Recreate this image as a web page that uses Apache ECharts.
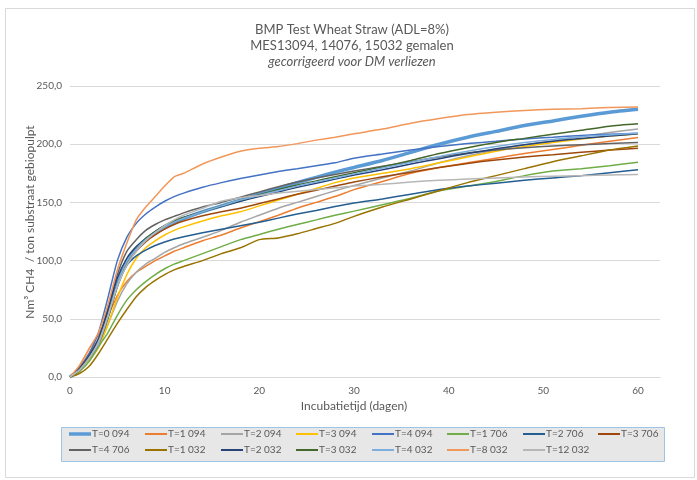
<!DOCTYPE html>
<html>
<head>
<meta charset="utf-8">
<script src="https://cdn.jsdelivr.net/npm/echarts@6/dist/echarts.min.js"></script>
<style>
  html, body { margin: 0; padding: 0; background: #fff; }
  #chart { width: 697px; height: 480px; }
</style>
</head>
<body>
<div id="chart"></div>
<script>
// Incubation days at which cumulative methane yield was recorded
const days = [0,1,2,3,4,5,6,7,8,9,10,11,12,14,16,18,20,22,24,26,28,30,33,36,39,42,45,48,51,54,57,60];

// Cumulative yield, Nm3 CH4 per ton substrate
const t0_094  = [0,6,17,30,55,80,98,110,118,124,129,133,136,142,147,152,157,162,167,171.5,176,180,186,193,200,206,211,216,220,224,227.5,230];
const t1_094  = [0,9,24,36,52,70,82,90,95,100,104,108,111,117,122,128,133.5,139,145,150,155,161,168,175,180,184,188,192,195.5,199,202.5,205.7];
const t2_094  = [0,5,14,27,45,65,80,90,97,102,107,111,114.5,120,126,133,139,145,150,155,160,164.5,171,177,184,190,195,199.5,203,206.5,210,213];
const t3_094  = [0,5,14,25,45,68,88,102,111,117,122,126,129,134,138.5,142,147,152,157,162,167,171,175,179,184,189,194,198,201.5,204.5,207,209];
const t4_094  = [0,8,20,38,68,100,120,132,140,146,151,155,158,163,167,170.5,173.5,176.5,179,181.5,184,188,191.5,195,198,200.5,202.5,204.5,206,207.5,208.5,209.5];
const t1_706  = [0,5,13,26,38,53,66,75,82,88,93,97,100,106,112,118,122.5,127,131,135,139,142.5,148,153.5,160,164,168,173,177,179,181.5,184.5];
const t2_706  = [0,6,17,32,55,80,96,104,109,113,116,118.5,120.5,124,127,130,133,136.5,140,143,146.5,149.5,153,157,161,164,166.5,169,171,173,175.5,178];
const t3_706  = [0,7,18,30,52,78,97,108,116,122,127,131,134,138.5,142,145,149,153,157,160.5,164,167.5,172,176,180,183.5,186.5,189,191,193,195,196.5];
const t4_706  = [0,7,19,33,58,88,108,118,126,131,135,138,141,146,150,154.5,159,163.5,167.5,171,174,177,181,185,189,192.5,195,197,198.5,199.5,200.5,201.5];
const t1_032  = [0,3,9,20,33,46,58,69,77,83,88,92,95,100,106,111,118,119.5,123,127.5,132,138,146,153,160,167,173,179,185,190,195,198.5];
const t2_032  = [0,7,18,32,58,85,102,112,119,125,130,134,137,142,146.5,151,155,159,163,166.5,170,173.5,178,183,187.5,192,196,199.5,202.5,205,207,209];
const t3_032  = [0,6,16,28,50,78,98,110,119,125,130,134,137,142,147,152,156.5,161,165,168.5,172,175.5,180.5,186,192,197,201.5,205,208.5,212,215.5,217.5];
const t4_032  = [0,6,16,28,52,80,99,110,118,124,129,133,136.5,142,147,152,156,160,164,167.5,171,174.5,179.5,184.5,189.5,194,198,201.5,204,206.5,208,209.5];
const t8_032  = [0,10,24,38,62,92,115,135,146,155,164,172,175,183,189,194,196.5,198,200.5,203.5,206,209,213,218,222,225.5,227.5,229,230,230.5,231.5,232];
const t12_032 = [0,6,16,30,52,78,96,108,117,124,130,135,139,145,151,154,156,158,159.5,161,162.5,164,165.5,167.5,169,170,171,171.8,172.5,173,173.5,174];

const seriesNames = ['T=0 094','T=1 094','T=2 094','T=3 094','T=4 094','T=1 706','T=2 706','T=3 706',
                     'T=4 706','T=1 032','T=2 032','T=3 032','T=4 032','T=8 032','T=12 032'];
const seriesValues = [t0_094,t1_094,t2_094,t3_094,t4_094,t1_706,t2_706,t3_706,
                      t4_706,t1_032,t2_032,t3_032,t4_032,t8_032,t12_032];
const yTicks = [0, 50, 100, 150, 200, 250];
const xTicks = [0, 10, 20, 30, 40, 50, 60];

const colors = ['#5b9bd5','#ed7d31','#a5a5a5','#ffc000','#4472c4','#70ad47','#255e91','#9e480e',
                '#636363','#997300','#264478','#43682b','#7cafdd','#f1975a','#b7b7b7'];
const FONT = 'Lato, "Open Sans", sans-serif';
const TXT = '#595959';

const series = seriesNames.map((name, i) => ({
  name: name,
  type: 'line',
  data: days.map((d, k) => [d, seriesValues[i][k]]),
  showSymbol: false,
  symbol: 'none',
  smooth: 0.2,
  lineStyle: { color: colors[i], width: i === 0 ? 3.5 : 1.5 },
  itemStyle: { color: colors[i] },
  emphasis: { disabled: true },
  z: i === 0 ? 1 : 2
}));

// Legend: 8 columns x 2 rows, one legend component per entry
const colX = [69, 145, 221, 296, 372, 447, 523, 598];
const rowY = [436, 452];
const legends = seriesNames.map((name, i) => ({
  data: [name],
  left: colX[i % 8],
  top: rowY[Math.floor(i / 8)] - 7,
  icon: 'rect',
  itemWidth: 22,
  itemHeight: i === 0 ? 3.5 : 2,
  padding: 0,
  itemGap: 0,
  selectedMode: false,
  textStyle: { fontSize: 10, color: TXT, fontFamily: FONT, padding: [0, 0, 0, -4] }
}));

const chart = echarts.init(document.getElementById('chart'), null, { renderer: 'canvas' });
chart.setOption({
  animation: false,
  backgroundColor: '#ffffff',
  color: colors,
  grid: { left: 70, right: 37, top: 86, bottom: 103 },
  xAxis: {
    type: 'value',
    min: xTicks[0],
    max: 62.32,
    interval: 10,
    axisLine: { show: true, lineStyle: { color: '#d9d9d9', width: 1 } },
    axisTick: { show: false },
    splitLine: { show: false },
    axisLabel: {
      color: TXT, fontSize: 10, fontFamily: FONT, margin: 9,
      showMaxLabel: false,
      formatter: v => (xTicks.indexOf(v) >= 0 ? String(v) : '')
    }
  },
  yAxis: {
    type: 'value',
    min: yTicks[0],
    max: yTicks[yTicks.length - 1],
    interval: 50,
    axisLine: { show: false },
    axisTick: { show: false },
    splitLine: { show: true, lineStyle: { color: '#d9d9d9', width: 1 } },
    axisLabel: {
      color: TXT, fontSize: 10, fontFamily: FONT, margin: 8,
      formatter: v => v.toFixed(1).replace('.', ',')
    }
  },
  legend: legends,
  graphic: [
    { type: 'rect', z: -10, silent: true,
      shape: { x: 5.5, y: 8.5, width: 689, height: 469 },
      style: { fill: '#ffffff', stroke: '#d9d9d9', lineWidth: 1 } },
    { type: 'rect', z: -5, silent: true,
      shape: { x: 61.5, y: 427.5, width: 603, height: 34 },
      style: { fill: '#e7e7e7', stroke: '#9dc3e6', lineWidth: 1 } },
    { type: 'text', silent: true, x: 352, y: 30,
      style: { text: 'BMP Test Wheat Straw (ADL=8%)', fill: TXT, font: '13px ' + FONT, textAlign: 'center', textVerticalAlign: 'middle' } },
    { type: 'text', silent: true, x: 352, y: 46,
      style: { text: 'MES13094, 14076, 15032 gemalen', fill: TXT, font: '13px ' + FONT, textAlign: 'center', textVerticalAlign: 'middle' } },
    { type: 'text', silent: true, x: 352, y: 62,
      style: { text: 'gecorrigeerd voor DM verliezen', fill: TXT, font: 'italic 13px ' + FONT, textAlign: 'center', textVerticalAlign: 'middle' } },
    { type: 'text', silent: true, x: 354, y: 406,
      style: { text: 'Incubatietijd (dagen)', fill: TXT, font: '12px ' + FONT, textAlign: 'center', textVerticalAlign: 'middle' } },
    { type: 'text', silent: true, x: 30, y: 222, rotation: Math.PI / 2,
      style: { text: 'Nm³ CH4  / ton substraat gebiopulpt', fill: TXT, font: '12px ' + FONT, textAlign: 'center', textVerticalAlign: 'middle' } }
  ],
  series: series
});
</script>
</body>
</html>
